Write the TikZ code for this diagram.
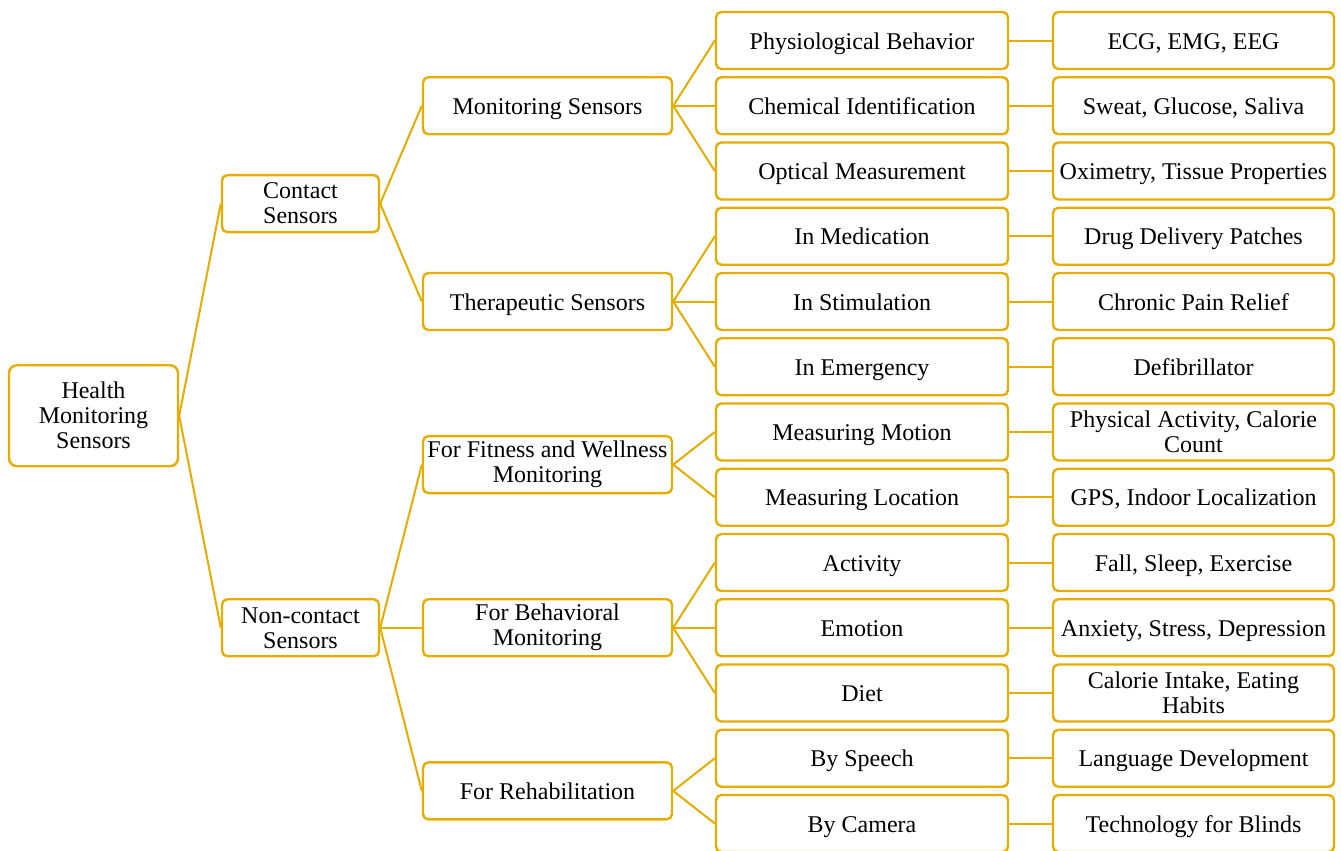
\documentclass[tikz,border=0pt]{standalone}
\usepackage{fontspec}
\setmainfont{Liberation Serif}
\definecolor{gold}{RGB}{230,172,0}

\begin{document}
\begin{tikzpicture}[x=0.75pt,y=-0.75pt,
  box/.style={draw=gold, line width=1.8pt, rounded corners=4pt, align=center,
    inner sep=0pt, minimum height=42.75pt, text height=16pt, text depth=3pt,
    font=\fontsize{18}{18.75}\selectfont},
  multi/.style={text height=, text depth=},
  rootbox/.style={box, multi, rounded corners=6pt, minimum width=126.75pt, minimum height=75.75pt},
  lvone/.style={box, multi, minimum width=117.75pt},
  lvtwo/.style={box, minimum width=186.75pt},
  lvthree/.style={box, minimum width=219pt},
  lvfour/.style={box, minimum width=210.75pt},
  link/.style={draw=gold, line width=1.5pt}]
\useasboundingbox (0,0) rectangle (1341,850);
% Raiz y primer nivel
\node[rootbox] (hms) at (93.5,415.7) {Health\\Monitoring\\Sensors};
\node[lvone] (cs) at (300.5,203.6) {Contact\\Sensors};
\node[lvone] (ncs) at (300.5,627.75) {Non-contact\\Sensors};
% Segundo nivel
\node[lvtwo] (ms) at (547.5,105.75) {Monitoring Sensors};
\node[lvtwo] (ts) at (547.5,301.5) {Therapeutic Sensors};
\node[lvtwo, multi] (fwm) at (547.5,464.6) {For Fitness and Wellness\\Monitoring};
\node[lvtwo, multi] (bm) at (547.5,627.75) {For Behavioral\\Monitoring};
\node[lvtwo] (rh) at (547.5,790.9) {For Rehabilitation};
% Tercer nivel
\node[lvthree] (pb) at (862,40.5) {Physiological Behavior};
\node[lvthree] (ci) at (862,105.75) {Chemical Identification};
\node[lvthree] (om) at (862,171) {Optical Measurement};
\node[lvthree] (imed) at (862,236.25) {In Medication};
\node[lvthree] (istim) at (862,301.5) {In Stimulation};
\node[lvthree] (iem) at (862,366.75) {In Emergency};
\node[lvthree] (mmot) at (862,432) {Measuring Motion};
\node[lvthree] (mloc) at (862,497.25) {Measuring Location};
\node[lvthree] (act) at (862,562.5) {Activity};
\node[lvthree] (emo) at (862,627.75) {Emotion};
\node[lvthree] (diet) at (862,693) {Diet};
\node[lvthree] (bysp) at (862,758.25) {By Speech};
\node[lvthree] (bycam) at (862,823.5) {By Camera};
% Cuarto nivel
\node[lvfour] (ecg) at (1193.5,40.5) {ECG, EMG, EEG};
\node[lvfour] (swt) at (1193.5,105.75) {Sweat, Glucose, Saliva};
\node[lvfour] (oxi) at (1193.5,171) {Oximetry, Tissue Properties};
\node[lvfour] (drug) at (1193.5,236.25) {Drug Delivery Patches};
\node[lvfour] (pain) at (1193.5,301.5) {Chronic Pain Relief};
\node[lvfour] (defib) at (1193.5,366.75) {Defibrillator};
\node[lvfour, multi] (phys) at (1193.5,432) {Physical Activity, Calorie\\Count};
\node[lvfour] (gps) at (1193.5,497.25) {GPS, Indoor Localization};
\node[lvfour] (fall) at (1193.5,562.5) {Fall, Sleep, Exercise};
\node[lvfour] (anx) at (1193.5,627.75) {Anxiety, Stress, Depression};
\node[lvfour, multi] (cal) at (1193.5,693) {Calorie Intake, Eating\\Habits};
\node[lvfour] (lang) at (1193.5,758.25) {Language Development};
\node[lvfour] (tech) at (1193.5,823.5) {Technology for Blinds};
% Conexiones
\draw[link] (hms.east) -- (cs.west);
\draw[link] (hms.east) -- (ncs.west);
\draw[link] (cs.east) -- (ms.west);
\draw[link] (cs.east) -- (ts.west);
\draw[link] (ncs.east) -- (fwm.west);
\draw[link] (ncs.east) -- (bm.west);
\draw[link] (ncs.east) -- (rh.west);
\draw[link] (ms.east) -- (pb.west);
\draw[link] (ms.east) -- (ci.west);
\draw[link] (ms.east) -- (om.west);
\draw[link] (ts.east) -- (imed.west);
\draw[link] (ts.east) -- (istim.west);
\draw[link] (ts.east) -- (iem.west);
\draw[link] (fwm.east) -- (mmot.west);
\draw[link] (fwm.east) -- (mloc.west);
\draw[link] (bm.east) -- (act.west);
\draw[link] (bm.east) -- (emo.west);
\draw[link] (bm.east) -- (diet.west);
\draw[link] (rh.east) -- (bysp.west);
\draw[link] (rh.east) -- (bycam.west);
\draw[link] (pb.east) -- (ecg.west);
\draw[link] (ci.east) -- (swt.west);
\draw[link] (om.east) -- (oxi.west);
\draw[link] (imed.east) -- (drug.west);
\draw[link] (istim.east) -- (pain.west);
\draw[link] (iem.east) -- (defib.west);
\draw[link] (mmot.east) -- (phys.west);
\draw[link] (mloc.east) -- (gps.west);
\draw[link] (act.east) -- (fall.west);
\draw[link] (emo.east) -- (anx.west);
\draw[link] (diet.east) -- (cal.west);
\draw[link] (bysp.east) -- (lang.west);
\draw[link] (bycam.east) -- (tech.west);
\end{tikzpicture}
\end{document}
